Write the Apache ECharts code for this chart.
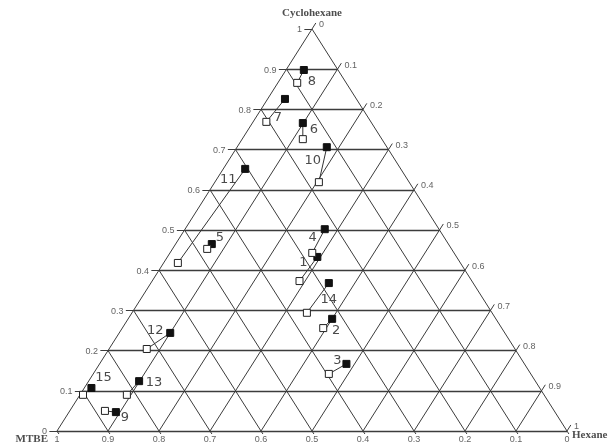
<!DOCTYPE html>
<html>
<head>
<meta charset="utf-8">
<script src="https://cdn.jsdelivr.net/npm/echarts@6/dist/echarts.min.js"></script>
<style>
html, body { margin: 0; background: #fff; }
#chart { width: 610px; height: 443px; }
</style>
</head>
<body>
<div id="chart"></div>
<script>
// compositions as [cyclohexane, hexane]  (MTBE = 1 - both)
var pairIds = ['1', '2', '3', '4', '5', '6', '7', '8', '9', '10', '11', '12', '13', '14', '15'];
var filledPts = [
    [0.433, 0.294], [0.279, 0.400], [0.167, 0.484], [0.502, 0.274], [0.465, 0.071],
    [0.766, 0.099], [0.826, 0.034], [0.898, 0.035], [0.047, 0.092], [0.706, 0.176],
    [0.652, 0.043], [0.244, 0.100], [0.124, 0.099], [0.368, 0.349], [0.107, 0.014]
];
var openPts = [
    [0.373, 0.289], [0.256, 0.394], [0.142, 0.462], [0.443, 0.279], [0.453, 0.068],
    [0.726, 0.119], [0.769, 0.026], [0.866, 0.038], [0.050, 0.069], [0.619, 0.204],
    [0.418, 0.028], [0.204, 0.074], [0.090, 0.092], [0.294, 0.343], [0.090, 0.006]
];
var gridTicks = [0.1, 0.2, 0.3, 0.4, 0.5, 0.6, 0.7, 0.8, 0.9];
var tickLabels = ['0', '0.1', '0.2', '0.3', '0.4', '0.5', '0.6', '0.7', '0.8', '0.9', '1'];

// where each pair number sits, px from the filled square
var labelOffsets = {
    '1': [-14, 6], '2': [4, 12], '3': [-9, -3], '4': [-12, 8], '5': [8, -6],
    '6': [11, 7], '7': [-7, 19], '8': [8, 12], '9': [9, 6], '10': [-14, 13],
    '11': [-17, 11], '12': [-15, -2], '13': [15, 1], '14': [0, 17], '15': [12, -10]
};

// ternary -> cartesian (base width 1, height 1)
function toXY(c, h) { return [h + c / 2, c]; }

var lineColor = '#3c3c3c';

// grid: horizontal lines (constant cyclohexane) drawn a bit heavier
var hSegs = [];
var dSegs = [];
var allTicks = [0].concat(gridTicks);
allTicks.forEach(function (t) {
    hSegs.push({ coords: [toXY(t, 0), toXY(t, 1 - t)] });          // cyclohexane = t
    dSegs.push({ coords: [toXY(0, t), toXY(1 - t, t)] });          // hexane = t
    dSegs.push({ coords: [toXY(0, 1 - t), toXY(1 - t, 0)] });      // MTBE = t
});

// small outside ticks
var tickSegs = [];
var ext = 0.015;
tickLabels.forEach(function (s, i) {
    var t = i / 10;
    tickSegs.push({ coords: [toXY(t, 0), toXY(t, -ext)] });             // left
    tickSegs.push({ coords: [toXY(1 - t, t), toXY(1 - t + ext, t)] });  // right
    tickSegs.push({ coords: [toXY(0, 1 - t), toXY(-ext / 2, 1 - t + ext / 2)] }); // bottom
});

var tickFont = { fontFamily: 'Liberation Sans', fontSize: 9, color: '#383838' };

var leftLabels = tickLabels.map(function (s, i) {
    var t = i / 10;
    return { value: toXY(t, 0), name: s };
});
var rightLabels = tickLabels.map(function (s, i) {
    var t = i / 10;
    return { value: toXY(1 - t, t), name: s };
});
var bottomLabels = tickLabels.map(function (s, i) {
    var t = i / 10;
    return { value: toXY(0, 1 - t), name: s };
});

function labelSeries(data, label) {
    return {
        type: 'scatter',
        data: data,
        symbolSize: 0,
        silent: true,
        clip: false,
        label: Object.assign({ show: true, formatter: function (p) { return p.name; } }, tickFont, label)
    };
}

function segSeries(data, width) {
    return {
        type: 'lines',
        coordinateSystem: 'cartesian2d',
        data: data,
        silent: true,
        clip: false,
        lineStyle: { color: lineColor, width: width, opacity: 1 }
    };
}

var series = [
    segSeries(dSegs, 1),
    segSeries(hSegs, 1.4),
    segSeries(tickSegs, 1),
    labelSeries(leftLabels, { position: 'left', distance: 10, offset: [0, 1] }),
    labelSeries(rightLabels, { position: 'right', distance: 7, offset: [0, -4] }),
    labelSeries(bottomLabels, { position: 'bottom', distance: 4 })
];

// tie lines: filled square joined to its open square
pairIds.forEach(function (id, i) {
    var f = filledPts[i], o = openPts[i];
    series.push({
        type: 'line',
        clip: false,
        symbol: 'rect',
        symbolSize: 7,
        silent: true,
        lineStyle: { color: '#333', width: 1 },
        data: [
            {
                value: toXY(f[0], f[1]),
                itemStyle: { color: '#111', borderColor: '#111', borderWidth: 1 },
                label: {
                    show: true,
                    position: 'inside',
                    offset: labelOffsets[id],
                    formatter: id,
                    fontFamily: 'DejaVu Sans',
                    fontSize: 13,
                    color: '#4a4a4a'
                }
            },
            {
                value: toXY(o[0], o[1]),
                itemStyle: { color: '#fff', borderColor: '#222', borderWidth: 1 }
            }
        ]
    });
});

// corner names
var cornerFont = { fontFamily: 'Liberation Serif', fontWeight: 'bold', fontSize: 11, color: '#222' };
series.push(labelSeries([
    { value: toXY(1, 0), name: 'Cyclohexane' }
], Object.assign({ position: 'top', distance: 10 }, cornerFont)));
series.push(labelSeries([
    { value: toXY(0, 0), name: 'MTBE' }
], Object.assign({ position: 'left', distance: 9, offset: [0, 8] }, cornerFont)));
series.push(labelSeries([
    { value: toXY(0, 1), name: 'Hexane' }
], Object.assign({ position: 'right', distance: 5, offset: [0, 4] }, cornerFont)));

var chart = echarts.init(document.getElementById('chart'), null, { renderer: 'canvas' });
chart.setOption({
    animation: false,
    backgroundColor: '#fff',
    grid: { left: 57, right: 43, top: 29, bottom: 12 },
    xAxis: { type: 'value', min: 0, max: 1, show: false },
    yAxis: { type: 'value', min: 0, max: 1, show: false },
    series: series
});
</script>
</body>
</html>
